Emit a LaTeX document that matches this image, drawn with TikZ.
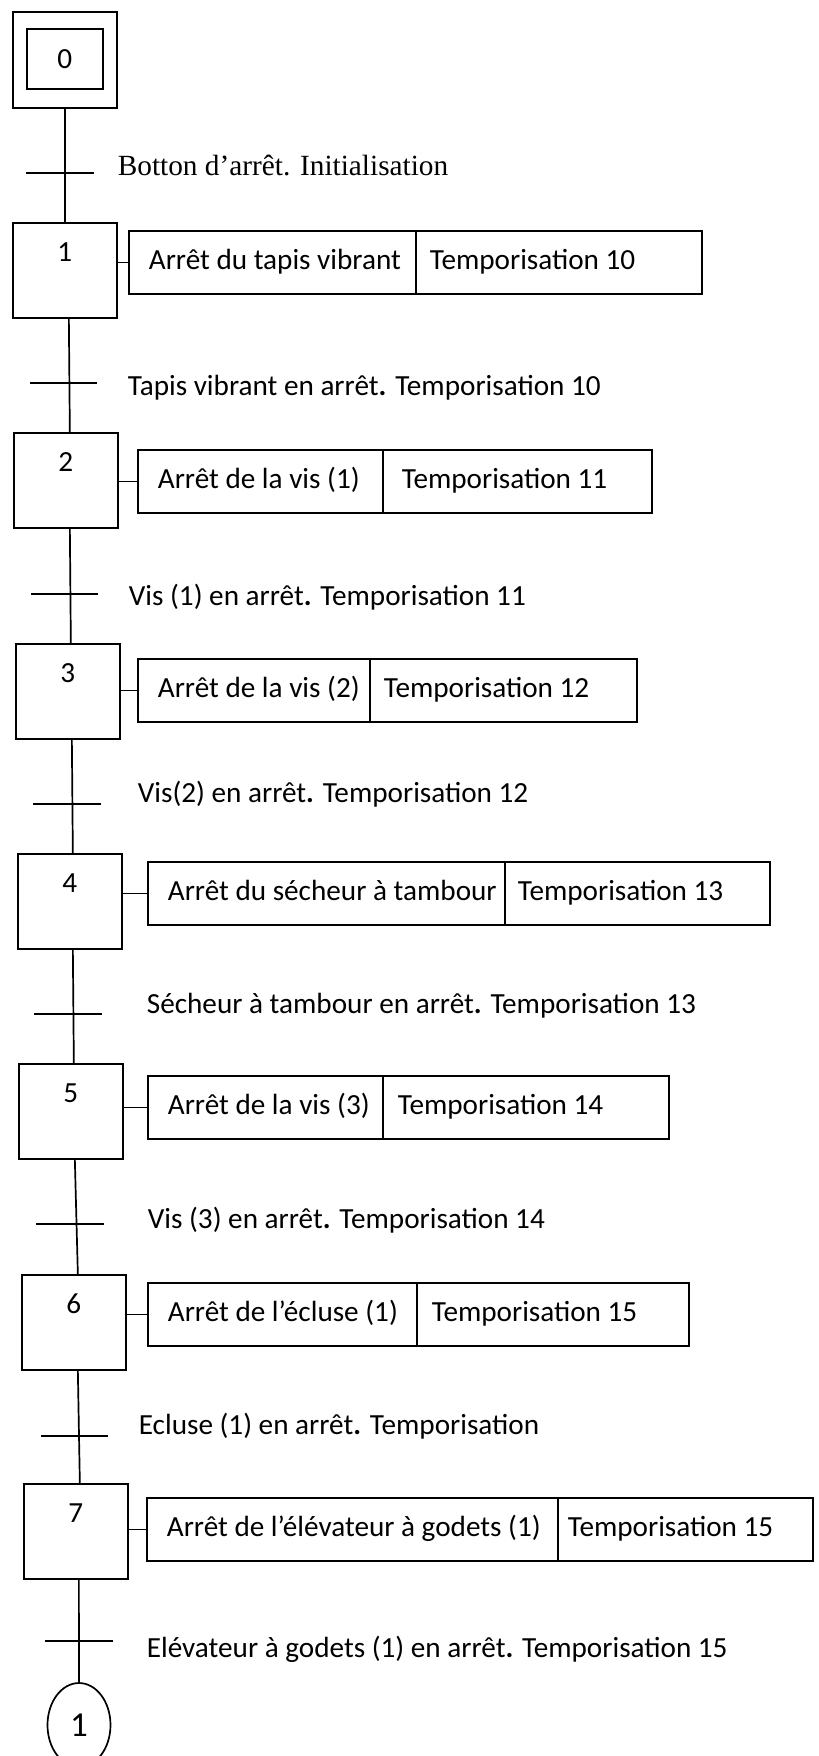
\documentclass[tikz,border=0pt]{standalone}
\usepackage{fontspec}
\setmainfont{Carlito}
\newfontfamily\seriffont{Liberation Serif}
\usetikzlibrary{calc,shapes.geometric}
\begin{document}
\begin{tikzpicture}[x=1pt,y=-1pt,line width=1.7pt,
  stepbox/.style={draw,rectangle,minimum width=104pt,minimum height=95pt,anchor=north west,inner sep=0pt},
  cell/.style={draw,rectangle,minimum height=63pt,anchor=north west,inner sep=0pt,line width=1.9pt},
  txt/.style={anchor=base west,inner sep=0pt,font=\fontsize{29.2}{35}\selectfont},
  num/.style={anchor=center,inner sep=0pt,font=\fontsize{29.2}{35}\selectfont}]
\useasboundingbox (0,0) rectangle (819,1756);

% initial step
\node[stepbox,minimum height=96pt] (s0) at (12,11) {};
\node[draw,rectangle,minimum width=76pt,minimum height=60pt,anchor=north west,inner sep=0pt,
      font=\fontsize{29.2}{35}\selectfont] (s0i) at (26,28) {0};

% steps
\node[stepbox] (s1) at (12,222) {};
\node[stepbox] (s2) at (13,432) {};
\node[stepbox] (s3) at (15,643) {};
\node[stepbox] (s4) at (17,853) {};
\node[stepbox] (s5) at (18,1063) {};
\node[stepbox] (s6) at (21,1274) {};
\node[stepbox] (s7) at (23,1483) {};
\node[num] (n1) at ($(s1.north)+(0,30)$) {1};
\node[num] (n2) at ($(s2.north)+(0,30)$) {2};
\node[num] (n3) at ($(s3.north)+(0,30)$) {3};
\node[num] (n4) at ($(s4.north)+(0,30)$) {4};
\node[num] (n5) at ($(s5.north)+(0,30)$) {5};
\node[num] (n6) at ($(s6.north)+(0,30)$) {6};
\node[num] (n7) at ($(s7.north)+(0,30)$) {7};

% end connector
\node[draw,ellipse,minimum width=63pt,minimum height=84pt,inner sep=0pt,
      font=\fontsize{35}{40}\selectfont] (c1) at (79,1725) {1};

% actions
\node[cell,minimum width=287pt] (a1a) at (128,230) {};
\node[cell,minimum width=286pt] (a1b) at (415,230) {};
\node[cell,minimum width=245pt] (a2a) at (137,449) {};
\node[cell,minimum width=269pt] (a2b) at (382,449) {};
\node[cell,minimum width=232pt] (a3a) at (137,658) {};
\node[cell,minimum width=267pt] (a3b) at (369,658) {};
\node[cell,minimum width=357pt] (a4a) at (147,861) {};
\node[cell,minimum width=265pt] (a4b) at (504,861) {};
\node[cell,minimum width=235pt] (a5a) at (147,1075) {};
\node[cell,minimum width=286pt] (a5b) at (382,1075) {};
\node[cell,minimum width=269pt] (a6a) at (147,1282) {};
\node[cell,minimum width=272pt] (a6b) at (416,1282) {};
\node[cell,minimum width=411pt] (a7a) at (146,1497) {};
\node[cell,minimum width=255pt] (a7b) at (557,1497) {};

\node[txt] (x1a) at ($(a1a.west)+(20,7)$) {Arrêt du tapis vibrant};
\node[txt] (x1b) at ($(a1b.west)+(14,7)$) {Temporisation 10};
\node[txt] (x2a) at ($(a2a.west)+(20,7)$) {Arrêt de la vis (1)};
\node[txt] (x2b) at ($(a2b.west)+(19,7)$) {Temporisation 11};
\node[txt] (x3a) at ($(a3a.west)+(20,7)$) {Arrêt de la vis (2)};
\node[txt] (x3b) at ($(a3b.west)+(14,7)$) {Temporisation 12};
\node[txt] (x4a) at ($(a4a.west)+(20,7)$) {Arrêt du sécheur à tambour};
\node[txt] (x4b) at ($(a4b.west)+(13,7)$) {Temporisation 13};
\node[txt] (x5a) at ($(a5a.west)+(20,7)$) {Arrêt de la vis (3)};
\node[txt] (x5b) at ($(a5b.west)+(15,7)$) {Temporisation 14};
\node[txt] (x6a) at ($(a6a.west)+(20,7)$) {Arrêt de l’écluse (1)};
\node[txt] (x6b) at ($(a6b.west)+(15,7)$) {Temporisation 15};
\node[txt] (x7a) at ($(a7a.west)+(20,7)$) {Arrêt de l’élévateur à godets (1)};
\node[txt] (x7b) at ($(a7b.west)+(10,7)$) {Temporisation 15};

% step-action links
\draw (a1a.west) -- (a1a.west -| s1.east);
\draw (a2a.west) -- (a2a.west -| s2.east);
\draw (a3a.west) -- (a3a.west -| s3.east);
\draw (a4a.west) -- (a4a.west -| s4.east);
\draw (a5a.west) -- (a5a.west -| s5.east);
\draw (a6a.west) -- (a6a.west -| s6.east);
\draw (a7a.west) -- (a7a.west -| s7.east);

% links between steps
\draw (s0.south) -- (s1.north);
\draw ([xshift=4pt]s1.south) -- ([xshift=4pt]s2.north);
\draw ([xshift=4pt]s2.south) -- ([xshift=3pt]s3.north);
\draw ([xshift=4pt]s3.south) -- ([xshift=3pt]s4.north);
\draw ([xshift=3pt]s4.south) -- ([xshift=3pt]s5.north);
\draw ([xshift=4pt]s5.south) -- ([xshift=4pt]s6.north);
\draw ([xshift=4pt]s6.south) -- ([xshift=4pt]s7.north);
\draw ([xshift=3pt]s7.south) -- (c1.north);

% transition bars
\coordinate (b0l) at (26,173);   \coordinate (b0r) at (94,173);
\coordinate (b1l) at (30,383);   \coordinate (b1r) at (97,383);
\coordinate (b2l) at (31,594);   \coordinate (b2r) at (98,594);
\coordinate (b3l) at (33,804);   \coordinate (b3r) at (101,804);
\coordinate (b4l) at (34,1014);  \coordinate (b4r) at (102,1014);
\coordinate (b5l) at (36,1224);  \coordinate (b5r) at (104,1224);
\coordinate (b6l) at (41,1436);  \coordinate (b6r) at (108,1436);
\coordinate (b7l) at (45,1641);  \coordinate (b7r) at (113,1641);
\draw (b0l) -- (b0r);
\draw (b1l) -- (b1r);
\draw (b2l) -- (b2r);
\draw (b3l) -- (b3r);
\draw (b4l) -- (b4r);
\draw (b5l) -- (b5r);
\draw (b6l) -- (b6r);
\draw (b7l) -- (b7r);

% transition conditions
\node[txt,font=\seriffont\fontsize{29.3}{35}\selectfont] (r0) at (117,175) {Botton d’arrêt. Initialisation};
\node[txt] (r1) at (127,395) {Tapis vibrant en arrêt\textbf{.} Temporisation 10};
\node[txt] (r2) at (128,605) {Vis (1) en arrêt\textbf{.} Temporisation 11};
\node[txt] (r3) at (137,802) {Vis(2) en arrêt\textbf{.} Temporisation 12};
\node[txt] (r4) at (146,1013) {Sécheur à tambour en arrêt\textbf{.} Temporisation 13};
\node[txt] (r5) at (147,1228) {Vis (3) en arrêt\textbf{.} Temporisation 14};
\node[txt] (r6) at (138,1434) {Ecluse (1) en arrêt\textbf{.} Temporisation};
\node[txt] (r7) at (146,1657) {Elévateur à godets (1) en arrêt\textbf{.} Temporisation 15};
\end{tikzpicture}
\end{document}
